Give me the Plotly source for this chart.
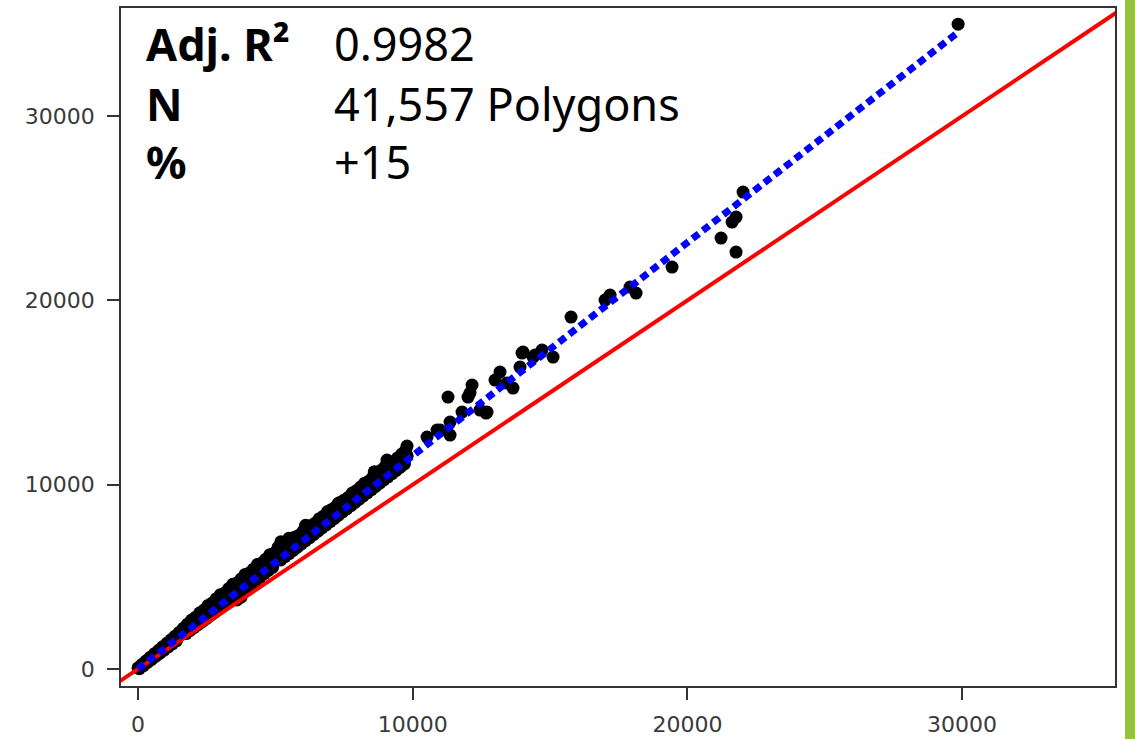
import plotly.graph_objects as go

# ---- data ----
band_x = [
    # segment near origin: upper, lower, middle rows
    0, 150, 300, 450, 600, 750, 900, 1050, 1200, 1350, 1500,
    50, 200, 350, 500, 650, 800, 950, 1100, 1250, 1400,
    100, 250, 400, 550, 700, 850, 1000, 1150, 1300, 1450,
    # segment 1650-5000
    1650, 1800, 1950, 2100, 2250, 2400, 2550, 2700, 2850, 3000, 3150, 3300, 3450, 3600,
    3750, 3900, 4050, 4200, 4350, 4500, 4650, 4800, 4950,
    1700, 1850, 2000, 2150, 2300, 2450, 2600, 2750, 2900, 3050, 3200, 3350, 3500, 3650,
    3800, 3950, 4100, 4250, 4400, 4550, 4700, 4850,
    1750, 1900, 2050, 2200, 2350, 2500, 2650, 2800, 2950, 3100, 3250, 3400, 3550, 3700,
    3850, 4000, 4150, 4300, 4450, 4600, 4750, 4900,
    # segment 5100-9800
    5100, 5250, 5400, 5550, 5700, 5850, 6000, 6150, 6300, 6450, 6600, 6750, 6900, 7050,
    7200, 7350, 7500, 7650, 7800, 7950, 8100, 8250, 8400, 8550, 8700, 8850, 9000, 9150,
    9300, 9450, 9600, 9750,
    5150, 5300, 5450, 5600, 5750, 5900, 6050, 6200, 6350, 6500, 6650, 6800, 6950, 7100,
    7250, 7400, 7550, 7700, 7850, 8000, 8150, 8300, 8450, 8600, 8750, 8900, 9050, 9200,
    9350, 9500, 9650, 9800,
    5200, 5350, 5500, 5650, 5800, 5950, 6100, 6250, 6400, 6550, 6700, 6850, 7000, 7150,
    7300, 7450, 7600, 7750, 7900, 8050, 8200, 8350, 8500, 8650, 8800, 8950, 9100, 9250,
    9400, 9550, 9700,
]
band_y = [
    60, 254, 447, 641, 834, 1018, 1211, 1395, 1588, 1782, 1986,
    18, 181, 355, 519, 692, 856, 1029, 1193, 1366, 1530,
    166, 349, 523, 706, 880, 1063, 1237, 1421, 1594, 1778,
    2209, 2433, 2656, 2810, 3053, 3197, 3450, 3584, 3817, 4031, 4125, 4358, 4592, 4665,
    4889, 5132, 5206, 5419, 5673, 5747, 5960, 6204, 6287,
    2117, 2310, 2494, 2688, 2861, 3045, 3228, 3412, 3575, 3769, 3932, 4126, 4290, 4473,
    4627, 4820, 4984, 5177, 5341, 5504, 5698, 5861,
    1925, 2088, 2252, 2415, 2579, 2743, 2916, 3080, 3253, 3417, 3600, 3764, 3927, 4111,
    4294, 4458, 4642, 4825, 4989, 5172, 5356, 5519,
    6601, 6854, 6898, 6941, 7155, 7248, 7462, 7716, 7789, 7923, 8156, 8290, 8543, 8657,
    8800, 9034, 9158, 9311, 9545, 9678, 9872, 10085, 10189, 10412, 10546, 10779, 10913, 11147,
    11240, 11454, 11667, 11881,
    6179, 6352, 6526, 6699, 6873, 7046, 7220, 7393, 7567, 7741, 7914, 8088, 8261, 8435,
    8608, 8782, 8955, 9129, 9302, 9476, 9650, 9823, 9997, 10170, 10344, 10517, 10691, 10864,
    11038, 11212, 11385, 11559,
    5916, 6090, 6264, 6437, 6611, 6784, 6958, 7131, 7305, 7478, 7652, 7825, 7999, 8173,
    8346, 8520, 8693, 8867, 9040, 9214, 9387, 9561, 9735, 9908, 10082, 10255, 10429, 10602,
    10776, 10949, 11123,
]
outlier_x = [3600, 3750, 5200, 5500, 6100, 7300, 8600, 9000, 9065, 9429, 9794, 10522, 10886,
             10995, 11359, 11359, 11286, 11796, 12014, 12087, 12160, 12451, 12670, 12706, 12997,
             13179, 13434, 13652, 13907, 13980, 14017, 14381, 14454, 14708, 15109, 15764, 17002,
             17184, 17912, 18131, 19441, 21225, 21626, 21771, 21771, 22026, 29855]
outlier_y = [3750, 3900, 6900, 7100, 7800, 9000, 10700, 11000, 11338, 10959, 12098, 12586, 12966,
             12966, 13400, 12695, 14756, 13942, 14756, 14973, 15407, 14051, 13888, 13942, 15679,
             16112, 15516, 15245, 16384, 17143, 17198, 16926, 17035, 17306, 16926, 19096, 20018,
             20290, 20724, 20398, 21809, 23382, 24250, 24521, 22623, 25878, 34990]

fit_slope = 1.157
fit_intercept = 0.0

x_range = [-619, 35566]
y_range = [-922, 35865]
tick_vals = [0, 10000, 20000, 30000]
tick_text = ["0", "10000", "20000", "30000"]

stats_labels = ["Adj. R²", "N", "%"]
stats_values = ["0.9982", "41,557 Polygons", "+15"]

# ---- figure ----
pts_x = band_x + outlier_x
pts_y = band_y + outlier_y

fig = go.Figure()
fig.add_trace(go.Scatter(x=pts_x, y=pts_y, mode="markers",
                         marker=dict(color="black", size=13, line=dict(width=0)),
                         hoverinfo="skip"))

ref = [x_range[0] - 2000, x_range[1] + 2000]
fig.add_trace(go.Scatter(x=ref, y=ref, mode="lines",
                         line=dict(color="#FF0000", width=4), hoverinfo="skip"))

fx = [min(pts_x), max(pts_x)]
fy = [fit_slope * v + fit_intercept for v in fx]
fig.add_trace(go.Scatter(x=fx, y=fy, mode="lines",
                         line=dict(color="#0000FF", width=7, dash="8px,5px"), hoverinfo="skip"))

axis_common = dict(showgrid=False, zeroline=False, showline=True, mirror=True,
                   linecolor="#333333", linewidth=1.5, ticks="outside", ticklen=12,
                   tickwidth=1.5, tickcolor="#333333", automargin=False,
                   tickfont=dict(family="DejaVu Sans", size=22, color="#3a3a3a"),
                   tickvals=tick_vals, ticktext=tick_text)
fig.update_xaxes(range=x_range, ticklabelstandoff=6, **axis_common)
fig.update_yaxes(range=y_range, ticklabelstandoff=8, **axis_common)

row_y = [0.9478, 0.8593, 0.7738]
for lab, val, yy in zip(stats_labels, stats_values, row_y):
    fig.add_annotation(xref="paper", yref="paper", x=0.0232, y=yy, xanchor="left",
                       yanchor="middle", showarrow=False, text="<b>" + lab + "</b>",
                       font=dict(family="Noto Sans", size=45, color="#000000"))
    fig.add_annotation(xref="paper", yref="paper", x=0.2123, y=yy, xanchor="left",
                       yanchor="middle", showarrow=False, text=val,
                       font=dict(family="Noto Sans", size=45, color="#000000"))

fig.add_shape(type="rect", xref="paper", yref="paper", x0=1.0101, x1=1.03, y0=-0.2, y1=1.2,
              fillcolor="#97C23D", line=dict(width=0), layer="above")

fig.update_layout(width=1135, height=739, margin=dict(l=121, r=20, t=8, b=53, autoexpand=False),
                  plot_bgcolor="white", paper_bgcolor="white", showlegend=False)

fig.write_html("out.html", config={"displayModeBar": False},
               post_script="document.body.style.margin='0';document.body.style.overflow='hidden';")
